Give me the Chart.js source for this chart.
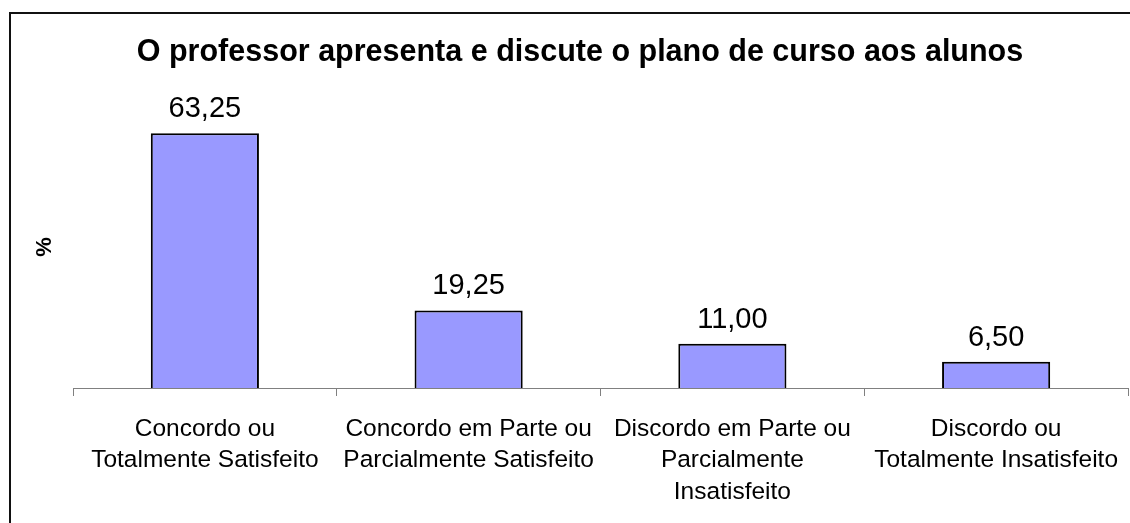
<!DOCTYPE html>
<html>
<head>
<meta charset="utf-8">
<script src="https://cdn.jsdelivr.net/npm/chart.js@4/dist/chart.umd.min.js"></script>
<style>
    body { margin: 0; background: #fff; }
    #wrap { position: relative; width: 1130px; height: 523px; overflow: hidden; }
    #frame { position: absolute; left: 9px; top: 12px; width: 1200px; height: 600px; border-left: 2px solid #111; border-top: 2px solid #111; }
    #chart { position: absolute; left: 0; top: 0; }
</style>
</head>
<body>
<div id="wrap">
    <div id="frame"></div>
    <canvas id="chart" width="1130" height="523"></canvas>
</div>
<script>
const categories = [
    ['Concordo ou', 'Totalmente Satisfeito'],
    ['Concordo em Parte ou', 'Parcialmente Satisfeito'],
    ['Discordo em Parte ou', 'Parcialmente', 'Insatisfeito'],
    ['Discordo ou', 'Totalmente Insatisfeito']
];
const percentages = [63.25, 19.25, 11.00, 6.50];
const chartTitle = 'O professor apresenta e discute o plano de curso aos alunos';
const yAxisTitle = '%';

const fontFamily = '"Liberation Sans", Arial, sans-serif';

// title, value labels above bars and the rotated "%" on the left
const extraText = {
    id: 'extraText',
    afterDatasetsDraw(chart) {
        const ctx = chart.ctx;
        const meta = chart.getDatasetMeta(0);
        ctx.save();
        ctx.fillStyle = '#000';
        ctx.textAlign = 'center';

        ctx.font = 'bold 30.5px ' + fontFamily;
        ctx.textBaseline = 'middle';
        ctx.fillText(chartTitle, 580, 53);

        ctx.font = '29px ' + fontFamily;
        ctx.textBaseline = 'alphabetic';
        meta.data.forEach((bar, i) => {
            ctx.fillText(percentages[i].toFixed(2).replace('.', ','), bar.x, bar.y - 16);
        });

        ctx.translate(45, 247);
        ctx.rotate(-Math.PI / 2);
        ctx.font = 'bold 22px ' + fontFamily;
        ctx.textBaseline = 'middle';
        ctx.fillText(yAxisTitle, 0, 0);
        ctx.restore();
    }
};

new Chart(document.getElementById('chart'), {
    type: 'bar',
    data: {
        labels: categories,
        datasets: [{
            data: percentages,
            backgroundColor: '#9999ff',
            borderColor: '#000',
            borderWidth: 2,
            categoryPercentage: 1,
            barPercentage: 0.41
        }]
    },
    options: {
        responsive: false,
        animation: false,
        layout: { padding: { left: 73, right: 2, top: 106, bottom: 0 } },
        plugins: {
            legend: { display: false },
            tooltip: { enabled: false },
            title: { display: false }
        },
        scales: {
            x: {
                grid: { drawOnChartArea: false, drawTicks: true, tickLength: 8, color: '#808080' },
                border: { display: true, color: '#808080', width: 1 },
                ticks: {
                    color: '#000',
                    font: { family: fontFamily, size: 24.5, lineHeight: 1.27 },
                    maxRotation: 0,
                    autoSkip: false,
                    padding: 18
                },
                afterFit(scale) {
                    scale.height = 135;
                    scale.paddingLeft = 0;
                    scale.paddingRight = 0;
                }
            },
            y: {
                display: false,
                min: 0,
                max: 70
            }
        }
    },
    plugins: [extraText]
});
</script>
</body>
</html>
